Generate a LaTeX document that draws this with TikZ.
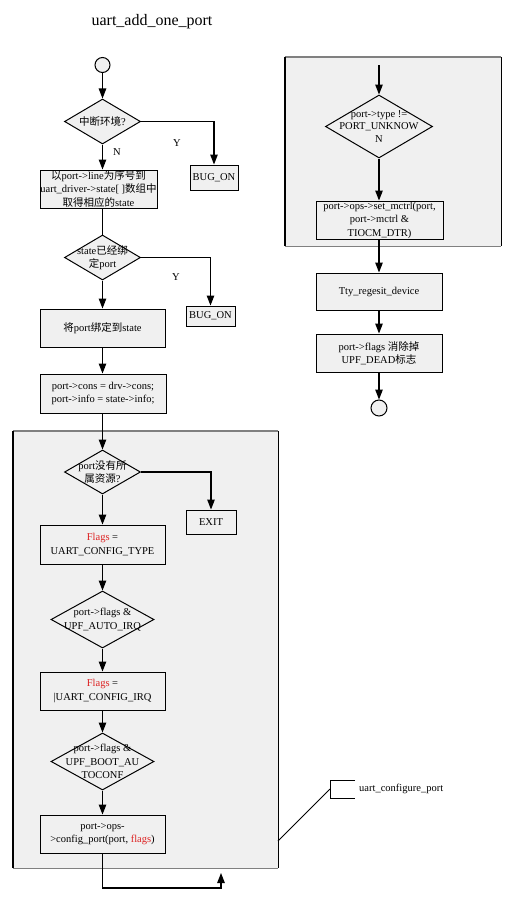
\documentclass[tikz,border=0pt]{standalone}
\usepackage{fontspec}
\setmainfont{Liberation Serif}
\newfontfamily\cjk{Noto Sans CJK SC}
\usetikzlibrary{shapes.geometric,arrows.meta}
\definecolor{boxfill}{HTML}{F0F0F0}
\definecolor{flagred}{HTML}{DD2222}
\definecolor{grpgray}{HTML}{808080}
\begin{document}
\begin{tikzpicture}[x=1pt,y=-1pt,
  every node/.style={font=\fontsize{10.5}{13.5}\selectfont},
  box/.style={draw,line width=1pt,fill=boxfill,align=center,inner sep=0pt},
  dia/.style={diamond,draw,line width=1pt,fill=boxfill,inner sep=0pt},
  dtext/.style={align=center,inner sep=0pt},
  term/.style={circle,draw,line width=1pt,fill=boxfill,inner sep=0pt},
  grp/.style={fill=boxfill,draw=none,inner sep=0pt},
  arr/.style={line width=1.3pt,-{Triangle[length=10pt,width=7.5pt]}},
  ln/.style={line width=1.3pt},
  lab/.style={inner sep=0pt}]
\useasboundingbox (0,0) rectangle (515,902);

% title
\node (title) at (152,22) {\fontsize{16}{18}\selectfont uart\_add\_one\_port};

% groups
\node[grp,minimum width=265,minimum height=437] (g1) at (145.5,649.5) {};
\draw[grpgray,line width=1.4pt] (g1.north west) -- (g1.north east);
\draw[grpgray,line width=1.4pt] (g1.south west) -- (g1.south east);
\draw[line width=1.4pt] (g1.north west) -- (g1.south west);
\draw[line width=1.4pt] (g1.north east) -- (g1.south east);

\node[grp,minimum width=216,minimum height=189] (g2) at (393,151.5) {};
\draw[grpgray,line width=1.4pt] (g2.north west) -- (g2.north east);
\draw[grpgray,line width=1.4pt] (g2.south west) -- (g2.south east);
\draw[line width=1.4pt] (g2.north west) -- (g2.south west);
\draw[line width=1.4pt] (g2.north east) -- (g2.south east);

% left column
\node[term,minimum size=15] (c1) at (102.5,65) {};
\node[dia,minimum width=76,minimum height=45,label={[dtext]center:{\cjk 中断环境}?}] (d1) at (102.5,121.5) {};
\node[box,minimum width=117,minimum height=38] (b1) at (98.5,189)
  {{\cjk 以}port->line{\cjk 为序号到}\\uart\_driver->state[ ]{\cjk 数组中}\\{\cjk 取得相应的}state};
\node[box,minimum width=48,minimum height=25] (bug1) at (214,177.5) {BUG\_ON};
\node[dia,minimum width=76,minimum height=45,label={[dtext]center:state{\cjk 已经绑}\\{\cjk 定}port}] (d2) at (102.5,257.5) {};
\node[box,minimum width=49,minimum height=20] (bug2) at (210.5,316) {BUG\_ON};
\node[box,minimum width=125,minimum height=38] (b2) at (102.5,328) {{\cjk 将}port{\cjk 绑定到}state};
\node[box,minimum width=126,minimum height=39] (b3) at (103,393.5) {port->cons = drv->cons;\\port->info = state->info;};

\node[dia,minimum width=76,minimum height=44,label={[dtext]center:port{\cjk 没有所}\\{\cjk 属资源}?}] (d3) at (102.5,472) {};
\node[box,minimum width=50,minimum height=24] (exit) at (211,522) {EXIT};
\node[box,minimum width=125,minimum height=39] (b4) at (102.5,544.5) {\textcolor{flagred}{Flags} =\\UART\_CONFIG\_TYPE};
\node[dia,minimum width=103,minimum height=57,label={[dtext]center:port->flags \&\\UPF\_AUTO\_IRQ}] (d4) at (102.5,619.5) {};
\node[box,minimum width=125,minimum height=38] (b5) at (102.5,691) {\textcolor{flagred}{Flags} =\\|UART\_CONFIG\_IRQ};
\node[dia,minimum width=103,minimum height=57,label={[dtext]center:port->flags \&\\UPF\_BOOT\_AU\\TOCONF}] (d5) at (102.5,761.5) {};
\node[box,minimum width=125,minimum height=38] (b6) at (102.5,834) {port->ops-\\>config\_port(port, \textcolor{flagred}{flags})};

% labels
\node[lab] (y1) at (177,143) {Y};
\node[lab] (n1) at (117,152) {N};
\node[lab] (y2) at (176,277) {Y};

% left connectors
\draw[arr] (c1) -- (d1);
\draw[arr] (d1.east) -| (bug1.north);
\draw[arr] (d1.south) -- (d1.south |- b1.north);
\draw[ln] (b1.south -| d1.south) -- (d2.north);
\draw[arr] (d2.east) -| (bug2.north);
\draw[arr] (d2.south) -- (d2.south |- b2.north);
\draw[arr] (d2.south |- b2.south) -- (d2.south |- b3.north);
\draw[arr] (d2.south |- b3.south) -- (d3.north);
\draw[arr] (d3.east) -| (exit.north);
\draw[arr] (d3.south) -- (d3.south |- b4.north);
\draw[arr] (d3.south |- b4.south) -- (d4.north);
\draw[arr] (d4.south) -- (d4.south |- b5.north);
\draw[arr] (d4.south |- b5.south) -- (d5.north);
\draw[arr] (d5.south) -- (d5.south |- b6.north);
\coordinate (lpc) at (221,888);
\coordinate (lpend) at (221,873);
\draw[arr] (d5.south |- b6.south) |- (lpc) -- (lpend);

% annotation
\coordinate (ann) at (278,841);
\coordinate (bk) at (330,789);
\coordinate (bkt) at (355,780);
\coordinate (bkb) at (355,798);
\node[lab,anchor=west] (cmt) at (359,789) {uart\_configure\_port};
\draw[line width=0.8pt] (ann) -- (bk);
\draw[line width=1pt] (bkt) -- (bkt -| bk) -- (bkb -| bk) -- (bkb);

% right column
\coordinate (rstart) at (379,65);
\node[dia,minimum width=107,minimum height=63,label={[dtext,font=\fontsize{10.5}{12.5}\selectfont]center:port->type !=\\PORT\_UNKNOW\\N}] (d6) at (379,126.5) {};
\node[box,minimum width=127,minimum height=38] (b7) at (379.5,220) {port->ops->set\_mctrl(port,\\port->mctrl \&\\TIOCM\_DTR)};
\node[box,minimum width=126,minimum height=37] (b8) at (379,291.5) {Tty\_regesit\_device};
\node[box,minimum width=126,minimum height=38] (b9) at (379,353) {port->flags {\cjk 消除掉}\\UPF\_DEAD{\cjk 标志}};
\node[term,minimum size=16] (c2) at (379,408) {};

\draw[arr] (rstart) -- (rstart |- d6.north);
\draw[arr] (d6.south) -- (d6.south |- b7.north);
\draw[arr] (d6.south |- b7.south) -- (d6.south |- b8.north);
\draw[arr] (d6.south |- b8.south) -- (d6.south |- b9.north);
\draw[arr] (d6.south |- b9.south) -- (c2);
\end{tikzpicture}
\end{document}
